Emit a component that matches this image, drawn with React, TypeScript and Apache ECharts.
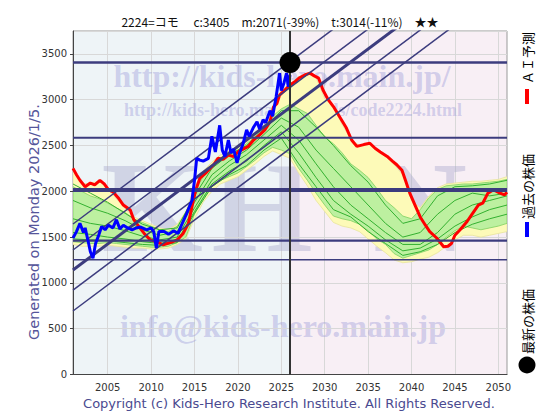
import React, { useEffect, useRef } from "react";
import * as echarts from "echarts";

const TITLE = "2224=コモ　 c:3405　m:2071(-39%)　t:3014(-11%)　★★";
const GENERATED = "Generated on Monday 2026/1/5.";
const COPYRIGHT = "Copyright (c) Kids-Hero Research Institute. All Rights Reserved.";
const LEGEND_AI = "ＡＩ予測";
const LEGEND_PAST = "過去の株価";
const LEGEND_LATEST = "最新の株価";

const xTicks = [2005, 2010, 2015, 2020, 2025, 2030, 2035, 2040, 2045, 2050];
const currentYear = 2026.0;
const latestPrice = 3405;

// horizontal reference levels
const hLevels = [3405, 2585, 2015, 1461, 1253];
const hWidths = [2.5, 2, 4, 2.2, 1.5];

// diagonal trend lines: value at 2001 and at 2051
const trendStart = [1643, 1359, 1141, 922, 693];
const trendEnd = [5191, 4907, 4689, 4470, 4241];
const trendWidths = [1.5, 1.5, 3, 1.5, 1.5];

// past price (blue) [year, value]
const pastPrice: [number, number][] = [
  [2001.0, 1490], [2001.4, 1560], [2001.8, 1650], [2002.2, 1550], [2002.4, 1600],
  [2002.8, 1430], [2003.0, 1340], [2003.3, 1270], [2003.6, 1430], [2003.9, 1505],
  [2004.3, 1615], [2004.7, 1580], [2005.1, 1630], [2005.6, 1600], [2006.0, 1690],
  [2006.4, 1590], [2006.8, 1630], [2007.3, 1600], [2007.8, 1580], [2008.3, 1600],
  [2008.8, 1610], [2009.5, 1580], [2010.0, 1600], [2010.3, 1560], [2010.6, 1380],
  [2010.9, 1560], [2011.5, 1560], [2012.0, 1530], [2012.6, 1570], [2013.1, 1540],
  [2013.5, 1630], [2014.1, 1760], [2014.7, 1900], [2015.0, 2120], [2015.25, 2360],
  [2015.6, 2340], [2016.0, 2330], [2016.6, 2360], [2017.0, 2600], [2017.4, 2430],
  [2017.9, 2720], [2018.2, 2450], [2018.5, 2380], [2018.9, 2560], [2019.2, 2420],
  [2019.5, 2460], [2019.9, 2310], [2020.2, 2420], [2020.6, 2520], [2021.0, 2670],
  [2021.3, 2600], [2021.8, 2700], [2022.2, 2760], [2022.5, 2680], [2022.9, 2780],
  [2023.2, 2750], [2023.7, 2880], [2024.0, 2820], [2024.4, 3030], [2024.8, 3290],
  [2025.0, 3100], [2025.3, 3180], [2025.6, 3290], [2025.8, 3140], [2026.0, 3270],
];

// AI forecast (red) [year, value]
const aiForecast: [number, number][] = [
  [2001.0, 2250], [2001.4, 2180], [2001.8, 2120], [2002.4, 2050], [2003.0, 2090],
  [2003.5, 2070], [2004.1, 2120], [2004.6, 2080], [2005.1, 2015], [2005.6, 1995],
  [2006.2, 1930], [2006.8, 1850], [2007.6, 1795], [2008.0, 1690], [2008.7, 1600],
  [2009.2, 1540], [2009.9, 1470], [2010.6, 1450], [2011.4, 1415], [2012.2, 1440],
  [2013.0, 1470], [2013.7, 1540], [2014.3, 1650], [2014.7, 1830], [2015.1, 2000],
  [2015.6, 2140], [2016.4, 2210], [2017.2, 2290], [2017.7, 2360], [2018.3, 2350],
  [2018.9, 2395], [2019.5, 2380], [2020.0, 2430], [2020.6, 2460], [2021.2, 2490],
  [2021.8, 2560], [2022.5, 2615], [2023.1, 2670], [2023.7, 2760], [2024.1, 2920],
  [2024.5, 2960], [2024.8, 3050], [2025.4, 3105], [2026.0, 3160], [2026.6, 3200],
  [2027.1, 3240], [2027.7, 3270], [2028.3, 3290], [2028.8, 3260], [2029.3, 3235],
  [2029.8, 3105], [2030.4, 3000], [2031.0, 2925], [2031.8, 2800], [2032.5, 2690],
  [2033.1, 2560], [2033.7, 2490], [2034.5, 2510], [2035.2, 2525], [2035.8, 2470],
  [2036.4, 2430], [2037.2, 2380], [2037.8, 2330], [2038.3, 2290], [2038.9, 2230],
  [2039.3, 2120], [2039.8, 1980], [2040.4, 1850], [2041.0, 1720], [2041.6, 1630],
  [2042.1, 1560], [2042.9, 1490], [2043.7, 1395], [2044.2, 1400], [2044.6, 1430],
  [2045.0, 1520], [2045.6, 1580], [2046.4, 1670], [2046.9, 1740], [2047.7, 1850],
  [2048.2, 1870], [2048.8, 1980], [2049.4, 2015], [2049.8, 2000], [2050.2, 1980],
  [2050.7, 1960], [2051.0, 1990],
];

// prediction bands (one value per year 2001..2051)
const bandYears = [
  2001, 2002, 2003, 2004, 2005, 2006, 2007, 2008, 2009, 2010,
  2011, 2012, 2013, 2014, 2015, 2016, 2017, 2018, 2019, 2020,
  2021, 2022, 2023, 2024, 2025, 2026, 2027, 2028, 2029, 2030,
  2031, 2032, 2033, 2034, 2035, 2036, 2037, 2038, 2039, 2040,
  2041, 2042, 2043, 2044, 2045, 2046, 2047, 2048, 2049, 2050, 2051,
];
const yellowHigh = [
  2250, 2080, 2090, 2110, 2020, 1920, 1810, 1720, 1680, 1640,
  1600, 1580, 1640, 1780, 2050, 2220, 2320, 2400, 2440, 2470,
  2540, 2620, 2720, 2930, 3110, 3170, 3250, 3290, 3240, 3010,
  2920, 2730, 2570, 2500, 2520, 2450, 2380, 2290, 2180, 1900,
  1820, 1950, 2040, 2080, 2090, 2100, 2110, 2110, 2120, 2130, 2160,
];
const yellowLow = [
  1420, 1400, 1400, 1400, 1410, 1400, 1390, 1380, 1380, 1370,
  1370, 1380, 1420, 1480, 1700, 1880, 2000, 2080, 2120, 2160,
  2230, 2300, 2380, 2440, 2400, 2360, 2200, 2060, 1900, 1780,
  1660, 1620, 1600, 1560, 1480, 1400, 1330, 1250, 1220, 1230,
  1260, 1280, 1330, 1400, 1470, 1520, 1520, 1500, 1520, 1540, 1560,
];
const greenHigh = [
  2050, 2000, 1950, 1920, 1870, 1820, 1770, 1700, 1660, 1620,
  1580, 1560, 1620, 1760, 2000, 2160, 2280, 2360, 2420, 2450,
  2520, 2600, 2700, 2820, 2900, 2950, 2900, 2850, 2720, 2590,
  2520, 2420, 2300, 2230, 2150, 2030, 1900, 1820, 1730, 1700,
  1800, 1930, 2020, 2060, 2070, 2080, 2080, 2090, 2100, 2110, 2130,
];
const greenLow = [
  1450, 1440, 1430, 1430, 1440, 1430, 1420, 1410, 1400, 1390,
  1390, 1400, 1440, 1500, 1750, 1920, 2050, 2120, 2160, 2200,
  2270, 2340, 2420, 2480, 2450, 2410, 2250, 2120, 1980, 1850,
  1730, 1700, 1680, 1640, 1570, 1480, 1420, 1320, 1270, 1300,
  1330, 1360, 1420, 1500, 1570, 1620, 1600, 1580, 1600, 1620, 1650,
];

// scenario paths (one value every two years 2001..2051)
const pathYears = [
  2001, 2003, 2005, 2007, 2009, 2011, 2013, 2015, 2017, 2019, 2021, 2023, 2025,
  2027, 2029, 2031, 2033, 2035, 2037, 2039, 2041, 2043, 2045, 2047, 2049, 2051,
];
const pathA = [2080, 1980, 1880, 1760, 1640, 1580, 1600, 1950, 2250, 2400, 2500, 2680, 2880, 2880, 2700, 2500, 2280, 2100, 1850, 1650, 1700, 1950, 2050, 2060, 2080, 2120];
const pathB = [1900, 1820, 1760, 1680, 1580, 1520, 1560, 1880, 2180, 2330, 2450, 2620, 2800, 2700, 2450, 2250, 2050, 1850, 1650, 1500, 1550, 1750, 1900, 1980, 1950, 1980];
const pathC = [1700, 1650, 1620, 1570, 1510, 1470, 1500, 1820, 2120, 2280, 2400, 2560, 2720, 2560, 2300, 2050, 1850, 1700, 1550, 1420, 1420, 1550, 1750, 1850, 1900, 1950];
const pathD = [1550, 1530, 1500, 1480, 1450, 1430, 1460, 1780, 2080, 2220, 2330, 2500, 2650, 2420, 2150, 1900, 1750, 1620, 1470, 1350, 1380, 1480, 1620, 1720, 1800, 1850];
const pathE = [1480, 1470, 1460, 1440, 1420, 1410, 1440, 1760, 2050, 2180, 2280, 2450, 2580, 2300, 2050, 1800, 1720, 1560, 1430, 1300, 1340, 1420, 1550, 1640, 1700, 1750];
const paths = [pathA, pathB, pathC, pathD, pathE];

const X_MIN = 2001;
const X_MAX = 2051;
const Y_MAX = 3750;

const NAVY = "#3c3c7e";
const WM = "rgba(150,150,215,0.40)";
const WM_BIG = "rgba(160,160,200,0.38)";

function bandSeries(high: number[], low: number[], fill: string, stroke: string, z: number) {
  return {
    type: "custom",
    z,
    silent: true,
    clip: true,
    data: [[2026, 2000]],
    renderItem: (_p: any, api: any) => {
      const pts: number[][] = [];
      for (let i = 0; i < bandYears.length; i++) pts.push(api.coord([bandYears[i], high[i]]));
      for (let i = bandYears.length - 1; i >= 0; i--) pts.push(api.coord([bandYears[i], low[i]]));
      return {
        type: "polygon",
        shape: { points: pts },
        style: { fill, stroke, lineWidth: 0.8 },
      };
    },
  };
}

export default function App() {
  const ref = useRef<HTMLDivElement>(null);
  useEffect(() => {
    if (!ref.current) return;
    const chart = echarts.init(ref.current, null, { renderer: "svg" });
    const series: any[] = [];

    series.push({
      type: "line",
      z: -6,
      silent: true,
      symbol: "none",
      lineStyle: { opacity: 0 },
      data: [[X_MIN, 0]],
      markArea: {
        silent: true,
        z: -6,
        data: [
          [{ xAxis: X_MIN, itemStyle: { color: "#eef4f7" } }, { xAxis: currentYear }],
          [{ xAxis: currentYear, itemStyle: { color: "#f8eff5" } }, { xAxis: X_MAX }],
        ],
      },
    });
    series.push({
      type: "line",
      z: -4,
      silent: true,
      symbol: "none",
      lineStyle: { opacity: 0 },
      data: [[X_MIN, 0]],
      markLine: {
        silent: true,
        z: -4,
        symbol: "none",
        label: { show: false },
        lineStyle: { color: "#d8d8d8", type: "solid", width: 1 },
        data: xTicks.map((x) => ({ xAxis: x })),
      },
    });

    series.push(bandSeries(yellowHigh, yellowLow, "#fdfab8", "#e8e49a", 3));
    series.push(bandSeries(greenHigh, greenLow, "#bdf0a0", "#7fd060", 4));

    paths.forEach((p) => {
      series.push({
        type: "line",
        z: 5,
        silent: true,
        symbol: "none",
        lineStyle: { color: "#33b030", width: 1 },
        data: pathYears.map((y, i) => [y, p[i]]),
      });
    });

    series.push({
      type: "line",
      z: 6,
      symbol: "none",
      lineStyle: { color: "#ff0000", width: 3 },
      data: aiForecast,
    });

    trendStart.forEach((v, i) => {
      series.push({
        type: "line",
        z: 7,
        silent: true,
        symbol: "none",
        clip: true,
        lineStyle: { color: NAVY, width: trendWidths[i] },
        data: [[X_MIN, v], [X_MAX, trendEnd[i]]],
      });
    });
    hLevels.forEach((v, i) => {
      series.push({
        type: "line",
        z: 7,
        silent: true,
        symbol: "none",
        lineStyle: { color: NAVY, width: hWidths[i] },
        data: [[X_MIN, v], [X_MAX, v]],
      });
    });

    series.push({
      type: "line",
      z: 8,
      symbol: "none",
      lineStyle: { color: "#0000ff", width: 3 },
      data: pastPrice,
    });

    series.push({
      type: "line",
      z: 9,
      silent: true,
      symbol: "none",
      lineStyle: { color: "#333333", width: 2 },
      data: [[currentYear, 0], [currentYear, Y_MAX]],
    });

    series.push({
      type: "scatter",
      z: 10,
      symbol: "circle",
      symbolSize: 21,
      itemStyle: { color: "#000000", opacity: 1 },
      data: [[currentYear, latestPrice]],
    });

    const wmFont = '"Liberation Serif", "DejaVu Serif", serif';
    const graphics: any[] = [
      { type: "text", z: 0, x: 282, y: 76, style: { text: "http://kids-hero.main.jp/", fill: WM, font: `bold 32px ${wmFont}`, textAlign: "center", textVerticalAlign: "middle" } },
      { type: "text", z: 0, x: 293, y: 110, style: { text: "http://kids-hero.main.jp/kids/code2224.html", fill: WM, font: `bold 18px ${wmFont}`, textAlign: "center", textVerticalAlign: "middle" } },
      { type: "text", z: 0, x: 152, y: 207, style: { text: "K", fill: WM_BIG, font: `bold 130px ${wmFont}`, textAlign: "center", textVerticalAlign: "middle" } },
      { type: "text", z: 0, x: 262, y: 207, style: { text: "H", fill: WM_BIG, font: `bold 130px ${wmFont}`, textAlign: "center", textVerticalAlign: "middle" } },
      { type: "text", z: 0, x: 420, y: 207, style: { text: "N", fill: WM_BIG, font: `bold 130px ${wmFont}`, textAlign: "center", textVerticalAlign: "middle" } },
      { type: "text", z: 0, x: 283, y: 326, style: { text: "info@kids-hero.main.jp", fill: WM, font: `bold 32px ${wmFont}`, textAlign: "center", textVerticalAlign: "middle" } },
      { type: "text", x: 34, y: 340, rotation: Math.PI / 2, style: { text: GENERATED, fill: "#55559a", font: '14.5px "DejaVu Sans", sans-serif', textAlign: "left", textVerticalAlign: "middle" } },
      { type: "text", x: 289, y: 403, style: { text: COPYRIGHT, fill: "#4a4a90", font: '13px "DejaVu Sans", sans-serif', textAlign: "center", textVerticalAlign: "middle" } },
      { type: "text", x: 527, y: 84, rotation: Math.PI / 2, style: { text: LEGEND_AI, fill: "#000", font: '13px "Noto Sans CJK JP", sans-serif', textAlign: "left", textVerticalAlign: "middle" } },
      { type: "rect", shape: { x: 525, y: 89, width: 4, height: 15 }, style: { fill: "#ff0000" } },
      { type: "text", x: 527, y: 219, rotation: Math.PI / 2, style: { text: LEGEND_PAST, fill: "#000", font: '13px "Noto Sans CJK JP", sans-serif', textAlign: "left", textVerticalAlign: "middle" } },
      { type: "rect", shape: { x: 525, y: 222, width: 4, height: 15 }, style: { fill: "#0000ff" } },
      { type: "text", x: 527, y: 354, rotation: Math.PI / 2, style: { text: LEGEND_LATEST, fill: "#000", font: '13px "Noto Sans CJK JP", sans-serif', textAlign: "left", textVerticalAlign: "middle" } },
      { type: "circle", shape: { cx: 527, cy: 365, r: 8.5 }, style: { fill: "#000" } },
    ];

    chart.setOption({
      animation: false,
      backgroundColor: "#ffffff",
      title: {
        text: TITLE,
        left: "center",
        top: 10,
        textStyle: { fontSize: 12, fontWeight: "normal", color: "#111", fontFamily: '"Noto Sans CJK JP", sans-serif' },
      },
      grid: { left: 73, right: 53, top: 31, bottom: 45.5, show: true, borderColor: "#999", borderWidth: 1, backgroundColor: "transparent" },
      xAxis: {
        type: "value",
        min: X_MIN,
        max: X_MAX,
        axisLine: { show: true, lineStyle: { color: "#444", width: 1 } },
        axisTick: { show: false, customValues: xTicks },
        splitLine: { show: false },
        axisLabel: { customValues: xTicks, formatter: (v: number) => String(v), color: "#333", fontSize: 10, fontFamily: '"DejaVu Sans", sans-serif', margin: 8 },
      },
      yAxis: {
        type: "value",
        min: 0,
        max: Y_MAX,
        interval: 500,
        axisLine: { show: true, lineStyle: { color: "#444", width: 1 } },
        axisTick: { show: true, length: 3, lineStyle: { color: "#444" } },
        splitLine: { show: true, lineStyle: { color: "#d8d8d8", width: 1 } },
        axisLabel: { showMaxLabel: false, formatter: (v: number) => String(v), color: "#333", fontSize: 10, fontFamily: '"DejaVu Sans", sans-serif', margin: 6 },
      },
      graphic: { elements: graphics },
      series,
    });
    return () => chart.dispose();
  }, []);
  return <div ref={ref} style={{ width: 560, height: 420, position: "absolute", left: 0, top: 0 }} />;
}
